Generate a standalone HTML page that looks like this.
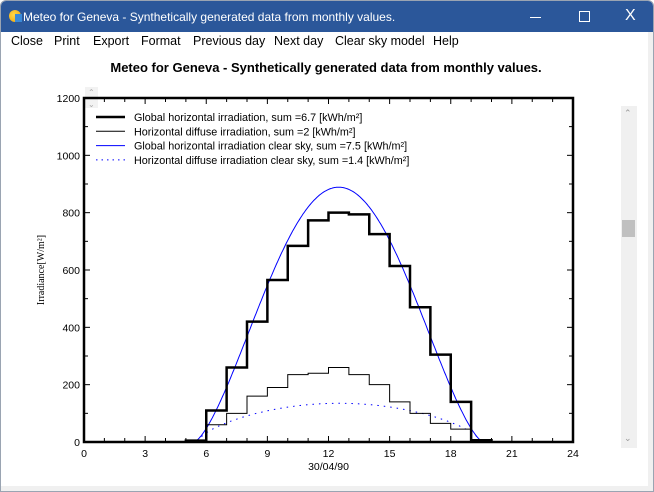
<!DOCTYPE html>
<html><head><meta charset="utf-8"><style>
body{margin:0;width:654px;height:492px;overflow:hidden;background:#fff;font-family:"Liberation Sans",sans-serif;}
.win{position:absolute;left:0;top:0;width:652px;height:490px;border:1px solid #9aa4b2;border-radius:6px 6px 0 0;overflow:hidden;background:#fff}
.tb{position:absolute;left:0;top:0;width:652px;height:31px;background:#2b579a;color:#fff;font-size:12px}
.menu{position:absolute;top:33px;left:0;font-size:12.5px;color:#000}
.menu span{position:absolute;white-space:nowrap}
</style></head><body>
<div class="win">
<div class="tb">
<div style="position:absolute;left:8px;top:9px;width:12px;height:12px;border-radius:50%;background:radial-gradient(circle at 40% 40%,#ffd84a,#f0a000)"></div>
<div style="position:absolute;left:14px;top:13px;width:7px;height:8px;background:#3a8ad8"></div>
<span style="position:absolute;left:22px;top:9px">Meteo for Geneva - Synthetically generated data from monthly values.</span>
<div style="position:absolute;left:529px;top:16px;width:11px;height:1px;background:#fff"></div>
<div style="position:absolute;left:578px;top:10px;width:9px;height:9px;border:1px solid #fff"></div>
<span style="position:absolute;left:624px;top:6px;font-size:16px">X</span>
</div>
<div class="menu">
<span style="left:10px">Close</span><span style="left:53px">Print</span><span style="left:92px">Export</span><span style="left:140px">Format</span><span style="left:192px">Previous day</span><span style="left:273px">Next day</span><span style="left:334px">Clear sky model</span><span style="left:432px">Help</span>
</div>
<div style="position:absolute;top:59px;width:654px;text-align:center;font-weight:bold;font-size:13px;left:-2px">Meteo for Geneva - Synthetically generated data from monthly values.</div>
<div style="position:absolute;left:620px;top:105px;width:16px;height:342px;background:#f0f0f0"></div>
<div style="position:absolute;left:621px;top:219px;width:13px;height:17px;background:#c0c0c0"></div>
<div style="position:absolute;left:623px;top:107px;font-size:9px;color:#999">&#8963;</div>
<div style="position:absolute;left:623px;top:432px;font-size:9px;color:#999">&#8964;</div>
<div style="position:absolute;left:647px;top:31px;width:5px;height:460px;background:#f0f0f0"></div>
<div style="position:absolute;left:0;top:485px;width:652px;height:6px;background:#f0f0f0"></div>
<div style="position:absolute;left:84px;top:86px;width:13px;height:21px;background:#f2f2f2"></div>
<svg id="s" width="654" height="492" style="position:absolute;left:0;top:0" font-family="Liberation Sans, sans-serif" font-size="10.5"></svg>
</div>
<script>
var X0=83,X1=572,Y0=441,Y1=97;
function X(h){return X0+(X1-X0)*h/24}function Y(v){return Y0-(Y0-Y1)*v/1200}
var o='';
for(var h=0;h<=24;h++){o+='<line x1="'+X(h)+'" y1="'+Y0+'" x2="'+X(h)+'" y2="'+(Y0-(h%3?4:6))+'" stroke="#000"/>';o+='<line x1="'+X(h)+'" y1="'+Y1+'" x2="'+X(h)+'" y2="'+(Y1+(h%3?4:6))+'" stroke="#000"/>';}
for(var v=0;v<=1200;v+=100){o+='<line x1="'+X0+'" y1="'+Y(v)+'" x2="'+(X0+(v%200?4:6))+'" y2="'+Y(v)+'" stroke="#000"/><line x1="'+X1+'" y1="'+Y(v)+'" x2="'+(X1-(v%200?4:6))+'" y2="'+Y(v)+'" stroke="#000"/>';}
for(var v=0;v<=1200;v+=200)o+='<text x="'+(X0-4)+'" y="'+(Y(v)+4)+'" text-anchor="end">'+v+'</text>';
for(var h=0;h<=24;h+=3)o+='<text x="'+X(h)+'" y="'+(Y0+15)+'" text-anchor="middle">'+h+'</text>';
o+='<text x="'+X(12)+'" y="469" text-anchor="middle">30/04/90</text>';
o+='<text transform="translate(43,269) rotate(-90)" text-anchor="middle" font-family="Liberation Serif,serif" font-size="10">Irradiance[W/m²]</text>';
function steps(a,s){var p='M'+X(a[0][0])+' '+Y(0);for(var i=0;i<a.length;i++){p+=' L'+X(a[i][0])+' '+Y(a[i][1])+' L'+X(a[i][0]+1)+' '+Y(a[i][1]);}p+=' L'+X(a[a.length-1][0]+1)+' '+Y(0);return '<path d="'+p+'" fill="none" stroke="#000" stroke-width="'+s+'"/>';}
function curve(a,b,pk,c,pw,st){var p='';for(var h=a;h<=b;h+=0.05){var t=(h-a)/(b-a);var v=pk*Math.pow(Math.sin(Math.PI*t),pw);p+=(p?' L':'M')+X(h).toFixed(1)+' '+Y(v).toFixed(1);}return '<path d="'+p+'" fill="none" stroke="#00f" stroke-width="1" '+st+'/>';}
o+=curve(5.4,19.6,889,0,1.45,'');
o+=curve(5.6,19.45,135,0,0.6,'stroke-dasharray="1.5,5"');
o+=steps([[6,60],[7,100],[8,160],[9,190],[10,235],[11,240],[12,260],[13,235],[14,200],[15,140],[16,100],[17,65],[18,45]],1);
o+=steps([[5,5],[6,110],[7,260],[8,420],[9,565],[10,684],[11,773],[12,800],[13,794],[14,725],[15,614],[16,470],[17,305],[18,140],[19,6]],2.5);
o+='<rect x="'+X0+'" y="'+Y1+'" width="'+(X1-X0)+'" height="'+(Y0-Y1)+'" fill="none" stroke="#000" stroke-width="2.5"/>';
var L=[['Global horizontal irradiation, sum =6.7 [kWh/m²]','#000',2.5,''],['Horizontal diffuse irradiation, sum =2 [kWh/m²]','#000',1,''],['Global horizontal irradiation clear sky, sum =7.5 [kWh/m²]','#00f',1,''],['Horizontal diffuse irradiation clear sky, sum =1.4 [kWh/m²]','#00f',1,'stroke-dasharray="1.5,4"']];
for(var i=0;i<4;i++){var y=116+i*14.3;o+='<line x1="95" y1="'+y+'" x2="124" y2="'+y+'" stroke="'+L[i][1]+'" stroke-width="'+L[i][2]+'" '+L[i][3]+'/><text x="133" y="'+(y+4)+'" font-size="10.8">'+L[i][0]+'</text>';}
o+='<text x="87" y="94" font-size="8" fill="#aaa">&#8963;</text><text x="87" y="106" font-size="8" fill="#aaa">&#8964;</text>';
document.getElementById('s').innerHTML=o;
</script>
</body></html>
